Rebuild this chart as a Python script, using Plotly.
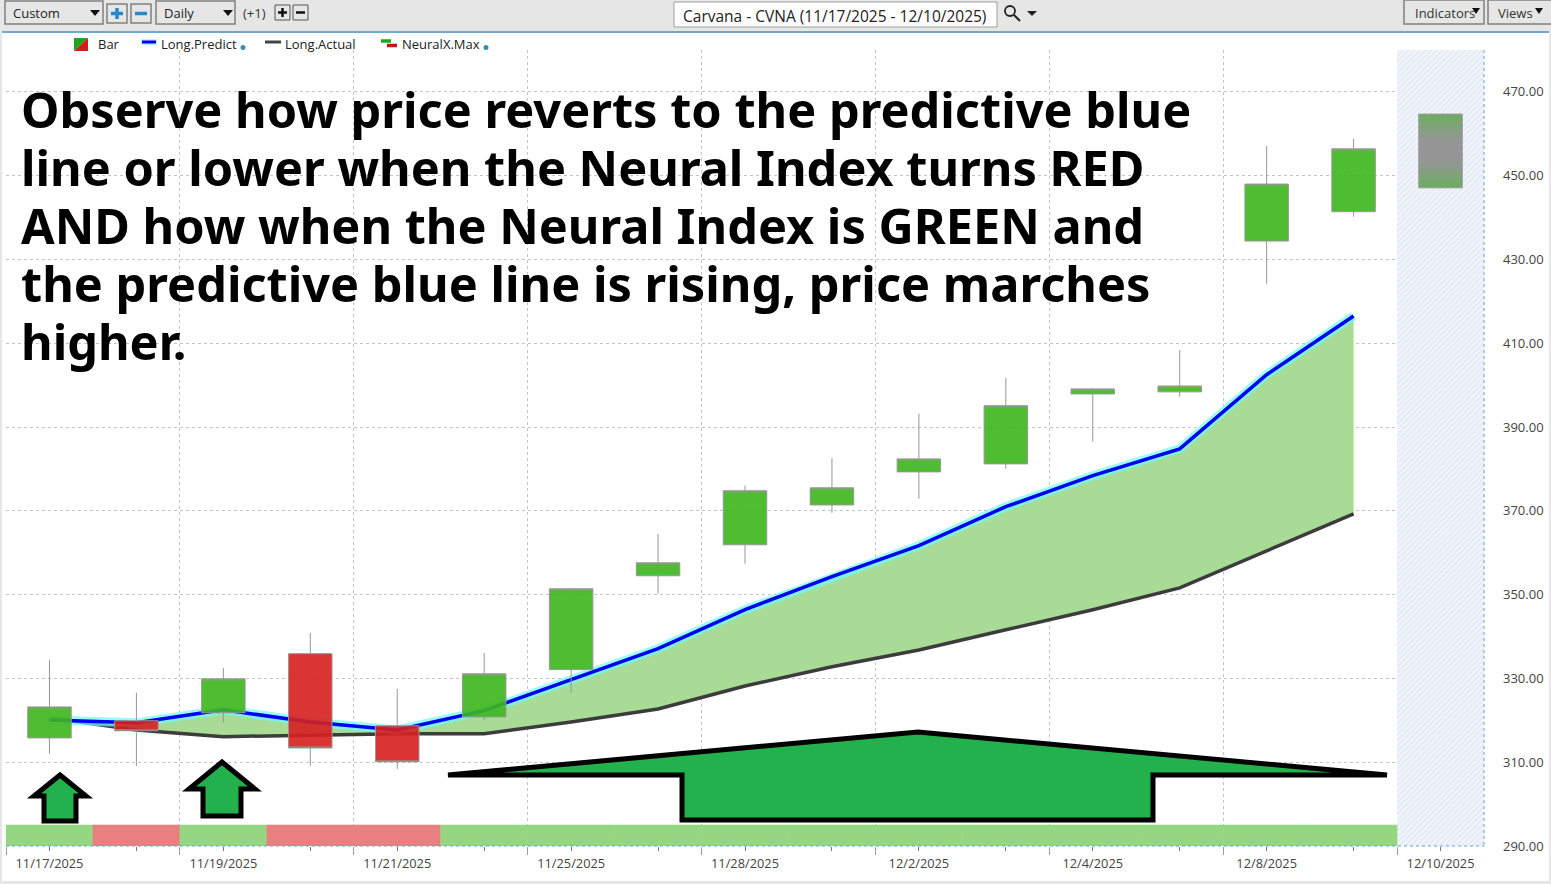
import plotly.graph_objects as go

W = 1551
H = 884

# Chart data
dates = ["11/17/2025", "11/18/2025", "11/19/2025", "11/20/2025", "11/21/2025", "11/24/2025",
         "11/25/2025", "11/26/2025", "11/28/2025", "12/1/2025", "12/2/2025", "12/3/2025",
         "12/4/2025", "12/5/2025", "12/8/2025", "12/9/2025", "12/10/2025"]
idx = list(range(len(dates)))

opens = [315.8, 319.9, 321.8, 335.9, 318.7, 320.8, 332.1, 354.5, 361.9, 371.4, 379.3, 381.2,
         397.9, 398.4, 434.4, 441.4]
highs = [334.4, 326.6, 332.5, 340.9, 327.5, 336.1, 351.6, 364.5, 376.0, 382.6, 393.2, 401.7,
         399.3, 408.4, 457.1, 458.8]
lows = [312.0, 309.1, 319.4, 309.1, 308.4, 320.1, 326.6, 350.2, 357.4, 369.5, 372.9, 380.0,
        386.5, 397.2, 424.2, 440.2]
closes = [323.2, 317.5, 329.9, 313.4, 310.1, 331.1, 351.4, 357.6, 374.8, 375.5, 382.4, 395.1,
          399.1, 399.8, 448.0, 456.4]

# The projected bar of the last day
projected_low = 447.1
projected_high = 464.7

long_predict = [320.1, 319.4, 322.5, 319.6, 317.7, 322.3, 329.7, 337.1, 346.4, 354.3, 361.7,
                371.0, 378.4, 384.8, 402.5, 416.5]
long_actual = [320.6, 317.7, 316.1, 316.5, 316.8, 316.8, 319.6, 322.7, 328.2, 332.8, 336.8,
               341.6, 346.4, 351.6, 360.5, 369.3]
neural_state = [1, -1, 1, -1, -1, 1, 1, 1, 1, 1, 1, 1, 1, 1, 1, 1]

y_ticks = [290, 310, 330, 350, 370, 390, 410, 430, 450, 470]
note_lines = [
    "Observe how price reverts to the predictive blue",
    "line or lower when the Neural Index turns RED",
    "AND how when the Neural Index is GREEN and",
    "the predictive blue line is rising, price marches",
    "higher.",
]

UI_FONT = "Open Sans"
GREEN_UP = "rgba(62,182,30,0.91)"
RED_DOWN = "rgba(214,32,32,0.91)"
WICK = "#979797"


def px(x):
    return x / W


def py(y):
    return 1 - y / H


def poly(points):
    # svg path in paper coordinates from pixel points
    parts = [f"{px(x):.5f},{py(y):.5f}" for x, y in points]
    return "M" + " L".join(parts) + " Z"


shapes = []
annotations = []


def rect(x0, y0, x1, y1, fill="#e6e6e6", line="#808080", width=1.5):
    shapes.append(dict(type="rect", xref="paper", yref="paper", x0=px(x0), x1=px(x1), y0=py(y0), y1=py(y1),
                       fillcolor=fill, line=dict(color=line, width=width)))


def hline(x0, y0, x1, y1, color, width=2, dash="solid"):
    shapes.append(dict(type="line", xref="paper", yref="paper", x0=px(x0), x1=px(x1), y0=py(y0), y1=py(y1),
                       line=dict(color=color, width=width, dash=dash)))


def shape_path(points, fill, line="rgba(0,0,0,0)", width=0):
    shapes.append(dict(type="path", xref="paper", yref="paper", path=poly(points), fillcolor=fill,
                       line=dict(color=line, width=width)))


def label(x, y, text, size=13, color="#222222", anchor="left", family=UI_FONT, weight=400):
    annotations.append(dict(xref="paper", yref="paper", x=px(x), y=py(y), text=text, showarrow=False,
                            xanchor=anchor, yanchor="middle", borderpad=0,
                            font=dict(family=family, size=size, color=color, weight=weight)))


# page frame
rect(0, 0, 2, H, line="rgba(0,0,0,0)", width=0)
rect(1549, 0, W, H, line="rgba(0,0,0,0)", width=0)
rect(0, 881, W, H, line="rgba(0,0,0,0)", width=0)

# toolbar
rect(0, 0, W, 31, line="rgba(0,0,0,0)", width=0)
hline(2, 32, 1549, 32, "#3f8cc2", 1.5)

rect(5, 1, 103, 24)
label(12, 13, "Custom")
shape_path([(90, 10), (100, 10), (95, 16)], "#111111")
rect(107, 4, 127, 23)
hline(111, 13.5, 123, 13.5, "#2a88c8", 3.5)
hline(117, 8, 117, 19, "#2a88c8", 3.5)
rect(131, 4, 151, 23)
hline(135, 13.5, 147, 13.5, "#2a88c8", 3.5)
rect(156, 1, 235, 24)
label(163, 13, "Daily")
shape_path([(223, 10), (233, 10), (228, 16)], "#111111")
label(242, 13, "(+1)", color="#333333")
rect(275, 5, 290, 20, line="#555555", width=1)
hline(278, 12.5, 287, 12.5, "#111111", 2.5)
hline(282.5, 8, 282.5, 17, "#111111", 2.5)
rect(293, 5, 308, 20, line="#555555", width=1)
hline(296, 12.5, 305, 12.5, "#111111", 2.5)

rect(674, 2, 997, 27, fill="#ffffff", line="#a0a0a0", width=1)
label(835, 15.5, "Carvana - CVNA (11/17/2025 - 12/10/2025)", size=15.5, color="#222222", anchor="center")
shapes.append(dict(type="circle", xref="paper", yref="paper", x0=px(1005), x1=px(1015), y0=py(6), y1=py(16),
                   line=dict(color="#222222", width=1.8)))
hline(1014, 15, 1020, 21, "#222222", 2.2)
shape_path([(1027, 11), (1037, 11), (1032, 16)], "#222222")

rect(1404, 0, 1484, 24)
label(1414, 13, "Indicators", color="#333333")
shape_path([(1472, 8), (1480, 8), (1476, 14)], "#111111")
rect(1488, 0, 1553, 24)
label(1497, 13, "Views", color="#333333")
shape_path([(1535, 8), (1543, 8), (1539, 14)], "#111111")

# legend row
shape_path([(74, 38), (88, 38), (74, 51)], "#1fa51f")
shape_path([(88, 38), (88, 51), (74, 51)], "#d41c1c")
label(97, 43.5, "Bar")
hline(141, 42, 157, 42, "#b6f6ff", 6)
hline(142, 42, 156, 42, "#0000ee", 3)
label(160, 43.5, "Long.Predict")
hline(265, 42, 281, 42, "#444444", 3)
label(284, 43.5, "Long.Actual")
hline(381, 41, 391, 41, "#1fa51f", 3.5)
hline(387, 45.5, 397, 45.5, "#c81414", 3.5)
label(401, 43.5, "NeuralX.Max")
for dot_x in (243, 486):
    shapes.append(dict(type="circle", xref="paper", yref="paper", x0=px(dot_x - 2.5), x1=px(dot_x + 2.5),
                       y0=py(45), y1=py(50), fillcolor="#3a8fa8", line=dict(width=0)))

# plot edge, dotted blue
hline(6, 846, 1484, 846, "#5aa6d6", 1, "dot")
hline(1484, 50, 1484, 846, "#5aa6d6", 1, "dot")

# hand drawn arrows
ARROW_GREEN = "#22b14c"
shape_path([(60, 775), (86, 796), (76, 796), (76, 821), (44, 821), (44, 796), (34, 796)], ARROW_GREEN, "#000000", 5)
shape_path([(222, 762), (255, 789), (241, 789), (241, 816), (203, 816), (203, 789), (189, 789)], ARROW_GREEN,
           "#000000", 5)
shape_path([(448, 775), (918, 732), (1387, 775), (1153, 775), (1153, 820), (682, 820), (682, 775)], ARROW_GREEN,
           "#000000", 5)

# big note
for i, line_text in enumerate(note_lines):
    label(20, 109 + i * 58, line_text, size=48.7, color="#000000", family="Noto Sans", weight=700)

fig = go.Figure()

# hatched forecast zone and the neural index strip
fig.add_trace(go.Bar(x=[idx[-1]], y=[190], base=[290], width=[1], hoverinfo="skip",
                     marker=dict(color="#ffffff", line=dict(width=0),
                                 pattern=dict(shape="/", fgcolor="#d5e0ef", bgcolor="#f3f6fb", size=4, solidity=0.5))))
strip_colors = ["#95d682" if s > 0 else "#e88080" for s in neural_state]
fig.add_trace(go.Bar(x=idx[:len(neural_state)], y=[5] * len(neural_state), base=[290] * len(neural_state), width=1,
                     marker=dict(color=strip_colors, line=dict(color=strip_colors, width=0.6))))

# band between the two averages
band_x = idx[:len(long_predict)]
fig.add_trace(go.Scatter(x=band_x, y=long_actual, mode="lines", line=dict(width=0), hoverinfo="skip"))
fig.add_trace(go.Scatter(x=band_x, y=long_predict, mode="lines", line=dict(width=0), fill="tonexty",
                         fillcolor="#a8dc96", hoverinfo="skip"))
fig.add_trace(go.Scatter(x=band_x, y=long_actual, mode="lines", line=dict(color="#3c3c3c", width=3.5)))
fig.add_trace(go.Scatter(x=band_x, y=long_predict, mode="lines", line=dict(color="rgba(110,250,250,0.7)", width=9)))
fig.add_trace(go.Scatter(x=band_x, y=long_predict, mode="lines", line=dict(color="#0000f0", width=3.5)))

# candles go on an overlaid pair of axes so they sit on top of the lines
candle_x = idx[:len(opens)]
fig.add_trace(go.Candlestick(x=candle_x, open=opens, high=highs, low=lows, close=closes, xaxis="x2", yaxis="y2",
                             increasing=dict(fillcolor=GREEN_UP, line=dict(color=WICK, width=1)),
                             decreasing=dict(fillcolor=RED_DOWN, line=dict(color=WICK, width=1))))
fig.add_trace(go.Scatter(x=[idx[-1] - 0.25, idx[-1] + 0.25, idx[-1] + 0.25, idx[-1] - 0.25, idx[-1] - 0.25],
                         y=[projected_low, projected_low, projected_high, projected_high, projected_low],
                         xaxis="x2", yaxis="y2", mode="lines", line=dict(color=WICK, width=1), fill="toself",
                         fillgradient=dict(type="vertical",
                                           colorscale=[[0, "#6cae5e"], [0.35, "#959595"], [0.65, "#959595"],
                                                       [1, "#6cae5e"]])))

x_range = [-0.5, len(dates) - 0.5]
y_range = [290, 480]
x_domain = [px(6), px(1484)]
y_domain = [py(846), py(50)]

fig.update_layout(
    width=W, height=H,
    margin=dict(l=0, r=0, t=0, b=0),
    paper_bgcolor="#ffffff", plot_bgcolor="#ffffff",
    showlegend=False, boxgap=0.5, boxgroupgap=0, barmode="overlay", hovermode=False,
    shapes=shapes, annotations=annotations,
    xaxis=dict(
        domain=x_domain, range=x_range, showgrid=False, zeroline=False, showline=False, automargin=False,
        tickmode="array", tickvals=idx, ticktext=[d if i % 2 == 0 else "" for i, d in enumerate(dates)],
        ticks="outside", ticklen=4, tickcolor="#777777", tickwidth=1, ticklabelstandoff=2,
        tickfont=dict(family=UI_FONT, size=12.8, color="#444444"), tickangle=0,
        minor=dict(tickmode="array", tickvals=[i + 0.5 for i in range(-1, len(dates), 2)], ticks="outside",
                   ticklen=8, tickcolor="#999999", showgrid=True, gridcolor="#c4c4c4", griddash="dot", gridwidth=1),
    ),
    yaxis=dict(
        domain=y_domain, range=y_range, side="right", zeroline=False, showline=False, automargin=False,
        tickmode="array", tickvals=y_ticks, ticktext=[f"{v:.2f}" for v in y_ticks],
        showgrid=True, gridcolor="#c4c4c4", griddash="dot", gridwidth=1, ticks="", ticklabelstandoff=18,
        tickfont=dict(family=UI_FONT, size=13, color="#444444"),
    ),
    xaxis2=dict(domain=x_domain, range=x_range, overlaying="x", visible=False, rangeslider=dict(visible=False),
                anchor="y2", automargin=False),
    yaxis2=dict(domain=y_domain, range=y_range, overlaying="y", visible=False, anchor="x2", automargin=False),
)

fig.write_html("out.html", config={"displayModeBar": False},
               post_script="document.body.style.margin='0';document.body.style.overflow='hidden';")
